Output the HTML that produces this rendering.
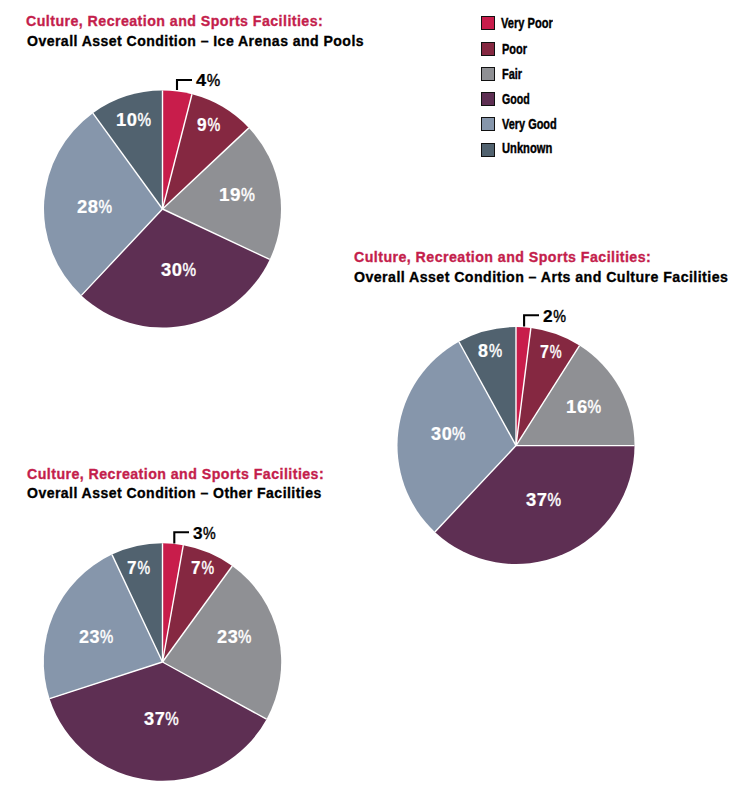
<!DOCTYPE html>
<html><head><meta charset="utf-8"><style>
html,body{margin:0;padding:0;background:#fff;width:737px;height:799px;overflow:hidden;position:relative}
.tx{position:absolute;white-space:nowrap;transform-origin:0 0;font-family:"Liberation Sans",sans-serif;font-weight:bold;line-height:1}
.ti{font-size:16px;letter-spacing:0.5px;-webkit-text-stroke:0.35px currentColor}
.lg{font-size:16px;-webkit-text-stroke:0.45px currentColor}
.lb{font-size:18px;color:#fff}
.ob{font-size:17px;color:#000}
.dg{letter-spacing:0.6px;-webkit-text-stroke:0.2px currentColor}
.pc{display:inline-block;font-weight:normal;transform-origin:0 0;transform:scaleX(0.83);margin-right:-3px;-webkit-text-stroke:0.45px currentColor}
.sq{position:absolute;left:481px;width:14px;height:14px;box-sizing:border-box;border:1.3px solid #111}
svg{position:absolute;left:0;top:0}
</style></head><body>
<svg width="737" height="799" viewBox="0 0 737 799">
<path d="M162.5,209 L162.50,90.50 A118.5,118.5 0 0 1 191.97,94.22 Z" fill="#C81D4B"/><path d="M162.5,209 L191.97,94.22 A118.5,118.5 0 0 1 248.88,127.88 Z" fill="#852841"/><path d="M162.5,209 L248.88,127.88 A118.5,118.5 0 0 1 269.72,259.45 Z" fill="#8F9094"/><path d="M162.5,209 L269.72,259.45 A118.5,118.5 0 0 1 81.38,295.38 Z" fill="#5E2F53"/><path d="M162.5,209 L81.38,295.38 A118.5,118.5 0 0 1 92.85,113.13 Z" fill="#8696AB"/><path d="M162.5,209 L92.85,113.13 A118.5,118.5 0 0 1 162.50,90.50 Z" fill="#51626F"/><g stroke="#fff" stroke-width="1.4"><line x1="162.5" y1="209" x2="162.50" y2="90.50"/><line x1="162.5" y1="209" x2="191.97" y2="94.22"/><line x1="162.5" y1="209" x2="248.88" y2="127.88"/><line x1="162.5" y1="209" x2="269.72" y2="259.45"/><line x1="162.5" y1="209" x2="81.38" y2="295.38"/><line x1="162.5" y1="209" x2="92.85" y2="113.13"/></g><path d="M516,445.6 L516.00,327.10 A118.5,118.5 0 0 1 530.85,328.03 Z" fill="#C81D4B"/><path d="M516,445.6 L530.85,328.03 A118.5,118.5 0 0 1 579.50,345.55 Z" fill="#852841"/><path d="M516,445.6 L579.50,345.55 A118.5,118.5 0 0 1 634.50,445.60 Z" fill="#8F9094"/><path d="M516,445.6 L634.50,445.60 A118.5,118.5 0 0 1 434.88,531.98 Z" fill="#5E2F53"/><path d="M516,445.6 L434.88,531.98 A118.5,118.5 0 0 1 458.91,341.76 Z" fill="#8696AB"/><path d="M516,445.6 L458.91,341.76 A118.5,118.5 0 0 1 516.00,327.10 Z" fill="#51626F"/><g stroke="#fff" stroke-width="1.4"><line x1="516" y1="445.6" x2="516.00" y2="327.10"/><line x1="516" y1="445.6" x2="530.85" y2="328.03"/><line x1="516" y1="445.6" x2="579.50" y2="345.55"/><line x1="516" y1="445.6" x2="634.50" y2="445.60"/><line x1="516" y1="445.6" x2="434.88" y2="531.98"/><line x1="516" y1="445.6" x2="458.91" y2="341.76"/></g><path d="M162.5,662 L162.50,543.30 A118.7,118.7 0 0 1 183.28,545.13 Z" fill="#C81D4B"/><path d="M162.5,662 L183.28,545.13 A118.7,118.7 0 0 1 232.27,565.97 Z" fill="#852841"/><path d="M162.5,662 L232.27,565.97 A118.7,118.7 0 0 1 266.52,719.18 Z" fill="#8F9094"/><path d="M162.5,662 L266.52,719.18 A118.7,118.7 0 0 1 49.61,698.68 Z" fill="#5E2F53"/><path d="M162.5,662 L49.61,698.68 A118.7,118.7 0 0 1 111.96,554.60 Z" fill="#8696AB"/><path d="M162.5,662 L111.96,554.60 A118.7,118.7 0 0 1 162.50,543.30 Z" fill="#51626F"/><g stroke="#fff" stroke-width="1.4"><line x1="162.5" y1="662" x2="162.50" y2="543.30"/><line x1="162.5" y1="662" x2="183.28" y2="545.13"/><line x1="162.5" y1="662" x2="232.27" y2="565.97"/><line x1="162.5" y1="662" x2="266.52" y2="719.18"/><line x1="162.5" y1="662" x2="49.61" y2="698.68"/><line x1="162.5" y1="662" x2="111.96" y2="554.60"/></g>
<g fill="none" stroke="#000" stroke-width="2.1">
<path d="M177,90 V80 H192"/>
<path d="M524.1,326.5 V315.2 H539"/>
<path d="M174.3,543.5 V532.3 H189"/>
</g>
</svg>
<div class="sq" style="top:16.0px;background:#C81D4B"></div><div class="sq" style="top:41.8px;background:#852841"></div><div class="sq" style="top:67.0px;background:#8F9094"></div><div class="sq" style="top:92.0px;background:#5E2F53"></div><div class="sq" style="top:117.0px;background:#8696AB"></div><div class="sq" style="top:142.8px;background:#51626F"></div>
<div class="tx ti" style="left:26.15px;top:14.23px;color:#C41E4C;transform:scale(0.8875,0.9600)"><span class="c0">C</span>ulture, Recreation and Sports Facilities:</div>
<div class="tx ti" style="left:26.97px;top:34.03px;color:#000000;transform:scale(0.8804,0.9600)"><span class="c0">O</span>verall Asset Condition – Ice Arenas and Pools</div>
<div class="tx ti" style="left:353.72px;top:249.55px;color:#C41E4C;transform:scale(0.8876,0.9600)"><span class="c0">C</span>ulture, Recreation and Sports Facilities:</div>
<div class="tx ti" style="left:354.48px;top:269.72px;color:#000000;transform:scale(0.8854,0.9600)"><span class="c0">O</span>verall Asset Condition – Arts and Culture Facilities</div>
<div class="tx ti" style="left:26.85px;top:466.74px;color:#C41E4C;transform:scale(0.8873,0.9600)"><span class="c0">C</span>ulture, Recreation and Sports Facilities:</div>
<div class="tx ti" style="left:26.85px;top:485.76px;color:#000000;transform:scale(0.8792,0.9600)"><span class="c0">O</span>verall Asset Condition – Other Facilities</div>
<div class="tx lg" style="left:501.15px;top:16.05px;color:#000000;transform:scale(0.6927,0.9500)"><span class="c0">V</span>ery Poor</div>
<div class="tx lg" style="left:501.69px;top:42.05px;color:#000000;transform:scale(0.6869,0.9500)"><span class="c0">P</span>oor</div>
<div class="tx lg" style="left:501.92px;top:66.85px;color:#000000;transform:scale(0.6845,0.9500)"><span class="c0">F</span>air</div>
<div class="tx lg" style="left:502.09px;top:91.87px;color:#000000;transform:scale(0.6644,0.9500)"><span class="c0">G</span>ood</div>
<div class="tx lg" style="left:501.85px;top:116.95px;color:#000000;transform:scale(0.6835,0.9500)"><span class="c0">V</span>ery Good</div>
<div class="tx lg" style="left:502.29px;top:141.15px;color:#000000;transform:scale(0.6975,0.9500)"><span class="c0">U</span>nknown</div>
<div class="tx ob" style="left:196.19px;top:72.26px;color:#000000;transform:scale(1.0759,1.0000)"><span class="dg">4</span><span class="pc">%</span></div>
<div class="tx lb" style="left:115.94px;top:110.69px;color:#fff;transform:scale(1.0196,1.0000)"><span class="dg">10</span><span class="pc">%</span></div>
<div class="tx lb" style="left:196.73px;top:116.13px;color:#fff;transform:scale(0.9609,1.0000)"><span class="dg">9</span><span class="pc">%</span></div>
<div class="tx lb" style="left:218.78px;top:186.27px;color:#fff;transform:scale(1.0473,1.0000)"><span class="dg">19</span><span class="pc">%</span></div>
<div class="tx lb" style="left:77.25px;top:198.13px;color:#fff;transform:scale(1.0195,1.0000)"><span class="dg">28</span><span class="pc">%</span></div>
<div class="tx lb" style="left:161.09px;top:261.08px;color:#fff;transform:scale(1.0213,1.0000)"><span class="dg">30</span><span class="pc">%</span></div>
<div class="tx ob" style="left:543.36px;top:308.21px;color:#000000;transform:scale(1.0180,1.0000)"><span class="dg">2</span><span class="pc">%</span></div>
<div class="tx lb" style="left:478.16px;top:342.38px;color:#fff;transform:scale(0.9925,1.0000)"><span class="dg">8</span><span class="pc">%</span></div>
<div class="tx lb" style="left:540.10px;top:342.68px;color:#fff;transform:scale(0.8904,1.0000)"><span class="dg">7</span><span class="pc">%</span></div>
<div class="tx lb" style="left:565.65px;top:398.46px;color:#fff;transform:scale(1.0257,1.0000)"><span class="dg">16</span><span class="pc">%</span></div>
<div class="tx lb" style="left:430.62px;top:424.59px;color:#fff;transform:scale(1.0058,1.0000)"><span class="dg">30</span><span class="pc">%</span></div>
<div class="tx lb" style="left:526.09px;top:490.78px;color:#fff;transform:scale(1.0213,1.0000)"><span class="dg">37</span><span class="pc">%</span></div>
<div class="tx ob" style="left:192.96px;top:525.10px;color:#000000;transform:scale(1.0120,1.0000)"><span class="dg">3</span><span class="pc">%</span></div>
<div class="tx lb" style="left:127.24px;top:558.55px;color:#fff;transform:scale(0.9500,1.0000)"><span class="dg">7</span><span class="pc">%</span></div>
<div class="tx lb" style="left:191.23px;top:558.84px;color:#fff;transform:scale(0.9501,1.0000)"><span class="dg">7</span><span class="pc">%</span></div>
<div class="tx lb" style="left:79.22px;top:628.03px;color:#fff;transform:scale(0.9965,1.0000)"><span class="dg">23</span><span class="pc">%</span></div>
<div class="tx lb" style="left:216.73px;top:627.54px;color:#fff;transform:scale(1.0055,1.0000)"><span class="dg">23</span><span class="pc">%</span></div>
<div class="tx lb" style="left:144.38px;top:709.58px;color:#fff;transform:scale(1.0114,1.0000)"><span class="dg">37</span><span class="pc">%</span></div>
</body></html>
